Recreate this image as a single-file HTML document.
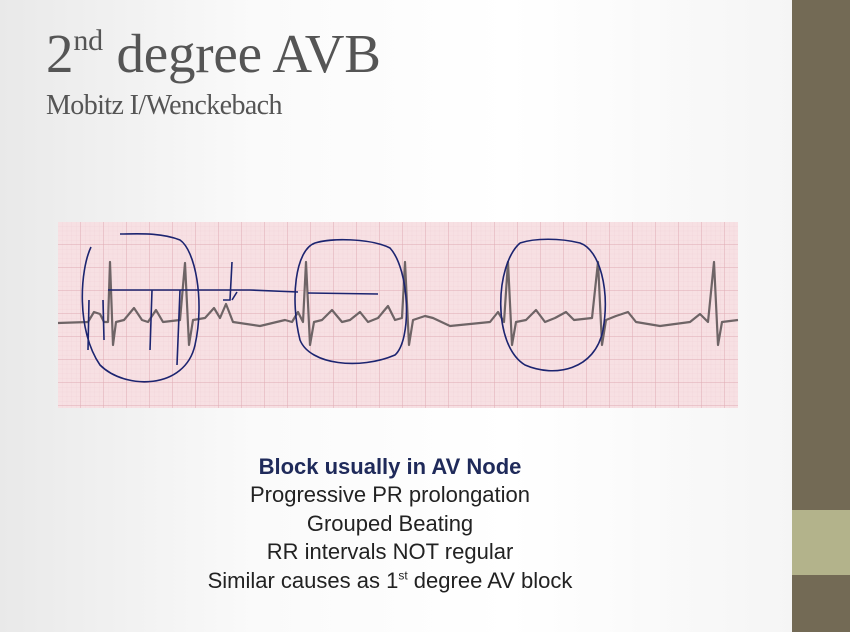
<!DOCTYPE html>
<html><head><style>
body{margin:0;width:850px;height:632px;overflow:hidden;background:linear-gradient(90deg,#e9e9e9 0%,#fafafa 30%,#fff 60%,#f3f3f3 100%);font-family:"Liberation Serif",serif;position:relative}
.side{position:absolute;left:792px;top:0;width:58px;height:632px;background:#736a55}
.lt{position:absolute;left:792px;top:510px;width:58px;height:65px;background:#b3b38b}
h1{position:absolute;left:46px;top:22px;margin:0;font-weight:normal;font-size:55px;line-height:64px;color:#555;letter-spacing:-0.2px}
h1 sup{font-size:30px;line-height:0;vertical-align:0;position:relative;top:-22px}
h2{position:absolute;left:46px;top:90px;margin:0;font-weight:normal;font-size:28px;color:#555;letter-spacing:-0.6px}
.txt{position:absolute;left:100px;width:580px;top:453px;text-align:center;font-family:"Liberation Sans",sans-serif;font-size:22px;line-height:28.4px;color:#222}
.txt b{color:#1f2a5a}
.txt sup{font-size:12px;line-height:0}
</style></head><body>
<div class="side"></div><div class="lt"></div>
<h1>2<sup>nd</sup> degree AVB</h1>
<h2>Mobitz I/Wenckebach</h2>
<svg style="position:absolute;left:0;top:0" width="850" height="632">
<defs>
<pattern id="sm" width="4.6" height="4.6" patternUnits="userSpaceOnUse" x="58" y="222"><path d="M4.6 0V4.6H0" fill="none" stroke="#efd0d5" stroke-width="0.5"/></pattern>
<pattern id="bg" width="23" height="23" patternUnits="userSpaceOnUse" x="58" y="222"><path d="M23 0V23H0" fill="none" stroke="#dfaab3" stroke-width="1"/></pattern>
</defs>
<rect x="58" y="222" width="680" height="186" fill="#f7e0e3"/>
<rect x="58" y="222" width="680" height="186" fill="url(#sm)"/>
<rect x="58" y="222" width="680" height="186" fill="url(#bg)"/>
<path fill="none" stroke="#6e6466" stroke-width="2.2" stroke-linejoin="round" d="M58 323 L88 322 L94 312 L100 314 L104 322 L108 322 L110 262 L113 345 L116 322 L124 320 L134 308 L142 320 L148 322 L156 310 L163 322 L180 320 L185 263 L189 345 L193 320 L205 318 L214 308 L220 318 L226 304 L233 322 L260 326 L285 320 L292 322 L298 312 L303 322 L306 262 L310 345 L314 322 L322 320 L332 310 L342 322 L350 320 L360 312 L368 322 L378 318 L388 306 L395 320 L402 318 L405 262 L409 345 L413 320 L425 316 L433 318 L450 326 L490 322 L498 312 L504 322 L508 262 L512 345 L516 322 L526 320 L536 310 L545 322 L555 318 L566 312 L574 320 L592 318 L598 262 L602 345 L606 320 L616 316 L628 312 L636 322 L660 326 L690 322 L700 314 L708 322 L714 262 L718 345 L722 322 L738 320"/>
<g fill="none" stroke="#1c2470" stroke-width="1.6">
<path d="M91 247 C80 270 76 330 100 365 C125 390 185 390 195 345 C205 300 195 250 180 240 C160 232 135 234 120 234"/>
<path d="M108 290 L250 290 L298 292"/>
<path d="M89 300 L88 350 M103 300 L104 340 M152 290 L150 350 M180 290 L177 365 M232 262 L230 300 L223 300 M232 300 L237 292"/>
<path d="M315 243 C295 250 290 300 300 340 C310 365 360 370 395 355 C412 340 410 270 390 248 C370 238 330 238 315 243"/>
<path d="M308 293 L378 294"/>
<path d="M520 243 C495 265 492 345 525 365 C555 378 595 370 603 330 C610 290 600 250 580 243 C560 238 535 238 520 243"/>
</g>
</svg>
<div class="txt"><b>Block usually in AV Node</b><br>Progressive PR prolongation<br>Grouped Beating<br>RR intervals NOT regular<br>Similar causes as 1<sup>st</sup> degree AV block</div>
</body></html>
